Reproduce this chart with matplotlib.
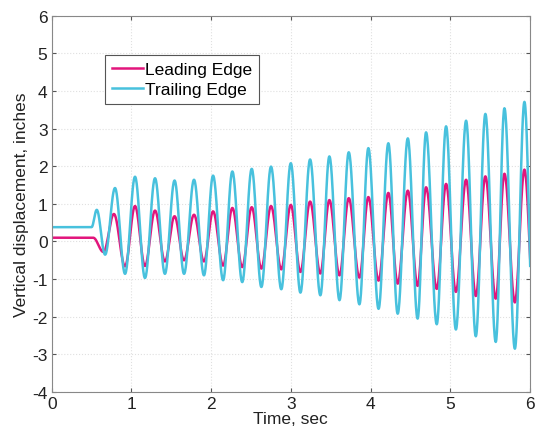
import numpy as np
import matplotlib.pyplot as plt

plt.rcParams['font.family'] = ['Liberation Sans', 'DejaVu Sans']
plt.rcParams['axes.unicode_minus'] = False

# Turning points (time in sec, displacement in inches) of each record
lead_t = [0.0, 0.52, 0.65, 0.78, 0.92, 1.045, 1.17, 1.296, 1.42, 1.541, 1.66, 1.785,
          1.91, 2.024, 2.15, 2.266, 2.39, 2.509, 2.63, 2.751, 2.88, 2.999, 3.12, 3.241,
          3.37, 3.483, 3.61, 3.726, 3.86, 3.972, 4.10, 4.223, 4.34, 4.467, 4.59, 4.696,
          4.83, 4.947, 5.07, 5.198, 5.32, 5.44, 5.57, 5.679, 5.81, 5.93, 6.05]
lead_y = [0.10, 0.10, -0.28, 0.73, -0.66, 0.94, -0.65, 0.82, -0.53, 0.67, -0.50, 0.71,
          -0.53, 0.80, -0.64, 0.89, -0.68, 0.91, -0.72, 0.94, -0.74, 0.97, -0.81, 1.06,
          -0.85, 1.10, -0.90, 1.15, -0.96, 1.18, -1.04, 1.29, -1.12, 1.35, -1.18, 1.44,
          -1.26, 1.53, -1.34, 1.64, -1.45, 1.73, -1.52, 1.80, -1.62, 1.91, -1.70]

trail_t = [0.0, 0.50, 0.565, 0.67, 0.794, 0.92, 1.045, 1.17, 1.296, 1.42, 1.541, 1.66,
           1.785, 1.91, 2.024, 2.15, 2.266, 2.39, 2.509, 2.63, 2.751, 2.88, 2.999, 3.12,
           3.241, 3.37, 3.483, 3.61, 3.726, 3.86, 3.972, 4.10, 4.223, 4.34, 4.467, 4.59,
           4.696, 4.83, 4.947, 5.07, 5.198, 5.32, 5.44, 5.57, 5.679, 5.81, 5.93, 6.05]
trail_y = [0.38, 0.38, 0.84, -0.35, 1.42, -0.86, 1.72, -0.97, 1.68, -0.86, 1.62, -0.86,
           1.64, -0.90, 1.75, -1.03, 1.86, -1.08, 1.93, -1.21, 1.99, -1.27, 2.08, -1.36,
           2.18, -1.43, 2.26, -1.56, 2.37, -1.67, 2.48, -1.79, 2.61, -1.92, 2.74, -2.05,
           2.90, -2.20, 3.06, -2.34, 3.21, -2.52, 3.39, -2.67, 3.54, -2.85, 3.71, -2.95]


def smooth(tp, yp, n=30):
    # half-cosine segments between successive turning points
    ts, ys = [], []
    for i in range(len(tp) - 1):
        s = np.linspace(0, 1, n, endpoint=False)
        ts.append(tp[i] + (tp[i + 1] - tp[i]) * s)
        ys.append(yp[i] + (yp[i + 1] - yp[i]) * (1 - np.cos(np.pi * s)) / 2)
    ts.append([tp[-1]])
    ys.append([yp[-1]])
    return np.concatenate(ts), np.concatenate(ys)


fig = plt.figure(figsize=(5.37, 4.35), dpi=100)
ax = fig.add_axes([0.0963, 0.0966, 0.8907, 0.865])

t1, y1 = smooth(lead_t, lead_y)
t2, y2 = smooth(trail_t, trail_y)
ax.plot(t1, y1, color='#e2157c', lw=1.8, label='Leading Edge')
ax.plot(t2, y2, color='#48c1dd', lw=1.8, label='Trailing Edge')

ax.set_xlim(0, 6)
ax.set_ylim(-4, 6)
ax.set_xticks(range(0, 7))
ax.set_yticks(range(-4, 7))
ax.grid(True, color='#e0e0e0', linestyle=':', linewidth=0.8)
ax.tick_params(direction='in', top=True, right=True, length=3, labelsize=12.5,
               color='#555555', labelcolor='#222222', pad=3)
for sp in ax.spines.values():
    sp.set_color('#888888')
    sp.set_linewidth(0.8)

ax.set_xlabel('Time, sec', fontsize=12.5, color='#222222', labelpad=0)
ax.set_ylabel('Vertical displacement, inches', fontsize=12.5, color='#222222', labelpad=2)

leg = ax.legend(loc='upper left', bbox_to_anchor=(0.111, 0.896), borderaxespad=0,
                fontsize=12.5, handlelength=1.8, handletextpad=0.1, fancybox=False,
                framealpha=1, edgecolor='#555555', borderpad=0.42, labelspacing=0.25)
leg.get_frame().set_linewidth(0.8)

fig.savefig('out.png', dpi=100)
